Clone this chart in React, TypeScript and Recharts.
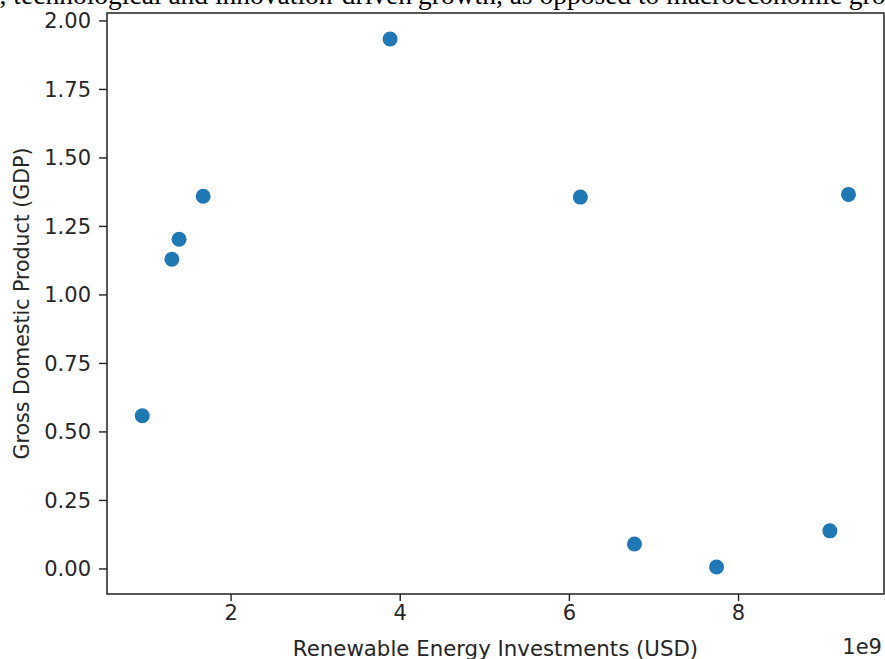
import React from "react";
import {
  ScatterChart,
  Scatter,
  XAxis,
  YAxis,
  ReferenceArea,
} from "recharts";

// renewable energy investments (USD) vs GDP
const investments = [0.95e9, 1.3e9, 1.385e9, 1.67e9, 3.88e9, 6.13e9, 6.77e9, 7.74e9, 9.08e9, 9.3e9];
const gdp = [0.559, 1.13, 1.203, 1.36, 1.934, 1.357, 0.091, 0.007, 0.139, 1.367];

const xTicks = [2e9, 4e9, 6e9, 8e9];
const yTicks = [0, 0.25, 0.5, 0.75, 1, 1.25, 1.5, 1.75, 2];

const xDomain: [number, number] = [0.533e9, 9.72e9];
const yDomain: [number, number] = [-0.0915, 2.029];

const data = investments.map((x, i) => ({ x, y: gdp[i] }));

const FONT = "'DejaVu Sans', sans-serif";
const tickStyle = { fontSize: 21, fontFamily: FONT, fill: "#262626" };

const Dot = (props: any) => (
  <circle cx={props.cx} cy={props.cy} r={7.5} fill="#1f77b4" />
);

export default function App() {
  return (
    <div style={{ position: "absolute", left: 0, top: 0, width: 885, height: 659, background: "#fff" }}>
      <ScatterChart
        width={885}
        height={659}
        margin={{ top: 13, right: 1, left: 0, bottom: 0 }}
      >
        <XAxis
          type="number"
          dataKey="x"
          domain={xDomain}
          ticks={xTicks}
          allowDataOverflow
          tickFormatter={(v: number) => String(v / 1e9)}
          axisLine={false}
          tickLine={{ stroke: "#222", strokeWidth: 1.4 }}
          tickSize={7}
          tickMargin={4}
          height={65}
          tick={tickStyle}
          label={{
            value: "Renewable Energy Investments (USD)",
            position: "insideBottom",
            offset: 3,
            style: { fontSize: 21.3, fontFamily: FONT, fill: "#262626" },
          }}
        />
        <YAxis
          type="number"
          dataKey="y"
          domain={yDomain}
          ticks={yTicks}
          allowDataOverflow
          tickFormatter={(v: number) => v.toFixed(2)}
          axisLine={false}
          tickLine={{ stroke: "#222", strokeWidth: 1.4 }}
          tickSize={8}
          tickMargin={8}
          width={107}
          tick={tickStyle}
          label={{
            value: "Gross Domestic Product (GDP)",
            angle: -90,
            position: "insideLeft",
            offset: 22,
            textAnchor: "middle",
            style: { fontSize: 20.5, fontFamily: FONT, fill: "#262626", textAnchor: "middle" },
          }}
        />
        <ReferenceArea
          x1={xDomain[0]}
          x2={xDomain[1]}
          y1={yDomain[0]}
          y2={yDomain[1]}
          fill="none"
          stroke="#222"
          strokeWidth={1.5}
          ifOverflow="extendDomain"
        />
        <Scatter data={data} shape={Dot} isAnimationActive={false} />
      </ScatterChart>
      <svg
        width={885}
        height={659}
        style={{ position: "absolute", left: 0, top: 0, pointerEvents: "none" }}
      >
        <text x={412} y={4} textAnchor="end" fontFamily="'Liberation Serif', serif" fontSize={27.5} fill="#000">
          manufacturing, technological and innovation-driven
        </text>
        <text x={418} y={4} fontFamily="'Liberation Serif', serif" fontSize={27.5} fill="#000">
          growth, as opposed to macroeconomic growth
        </text>
        <text x={882} y={654} textAnchor="end" fontFamily={FONT} fontSize={21} fill="#262626">
          1e9
        </text>
      </svg>
    </div>
  );
}
